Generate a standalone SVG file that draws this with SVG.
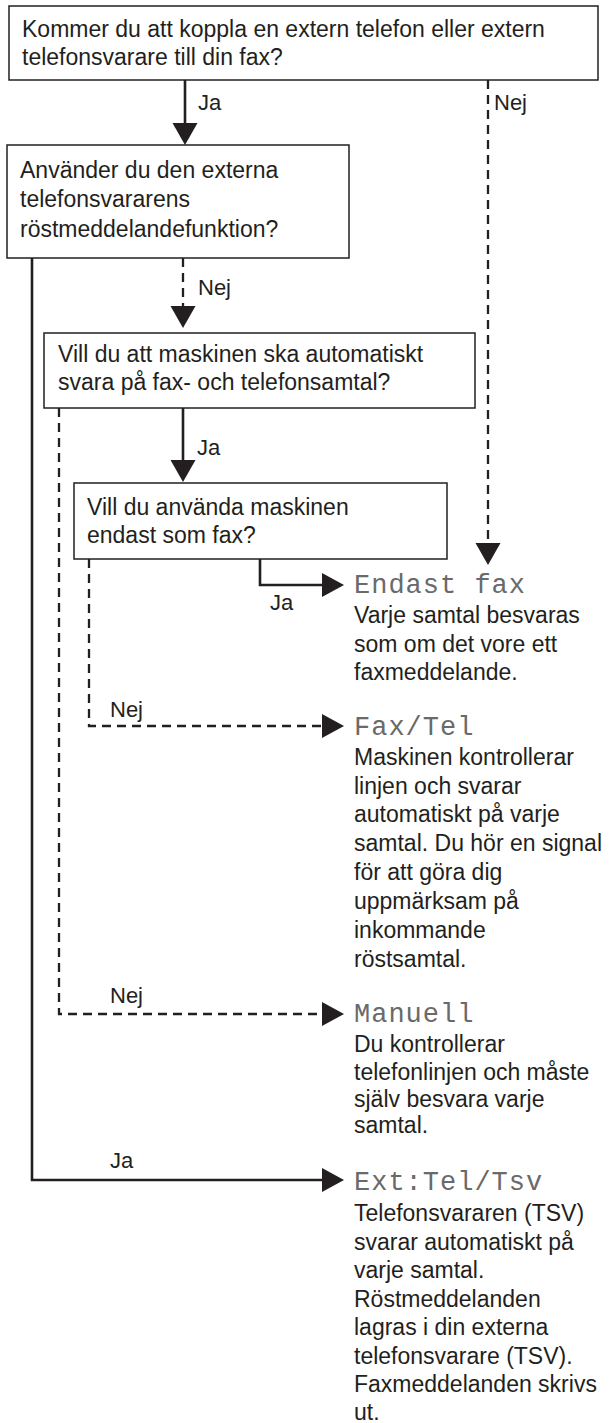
<svg xmlns="http://www.w3.org/2000/svg" width="611" height="1423" viewBox="0 0 611 1423">
<style>
.box{fill:#fff;stroke:#231f20;stroke-width:1.5}
.t{font-family:"Liberation Sans",Arial,sans-serif;font-size:23px;fill:#231f20}
.lbl{font-family:"Liberation Sans",Arial,sans-serif;font-size:22px;fill:#231f20}
.lcd{font-family:"Liberation Mono","DejaVu Sans Mono",monospace;font-size:27px;fill:#6a6a6a;letter-spacing:1px}
.solid{fill:none;stroke:#231f20;stroke-width:2.6}
.dash{fill:none;stroke:#231f20;stroke-width:2.3;stroke-dasharray:9 6}
.head{fill:#231f20}
</style>
<rect width="611" height="1423" fill="#fff"/>
<g id="q1">
<rect class="box" x="9" y="6" width="589" height="74"/>
<text class="t" x="22" y="37">Kommer du att koppla en extern telefon eller extern</text>
<text class="t" x="22" y="65">telefonsvarare till din fax?</text>
</g>
<g id="q2">
<rect class="box" x="7" y="145" width="342" height="113"/>
<text class="t" x="20" y="178">Använder du den externa</text>
<text class="t" x="20" y="207">telefonsvararens</text>
<text class="t" x="20" y="237">röstmeddelandefunktion?</text>
</g>
<g id="q3">
<rect class="box" x="44" y="333" width="431" height="75"/>
<text class="t" x="58" y="362">Vill du att maskinen ska automatiskt</text>
<text class="t" x="58" y="390">svara på fax- och telefonsamtal?</text>
</g>
<g id="q4">
<rect class="box" x="74" y="483" width="373" height="76"/>
<text class="t" x="87" y="515">Vill du använda maskinen</text>
<text class="t" x="87" y="543">endast som fax?</text>
</g>
<g id="r-endast">
<text class="lcd" x="354" y="593">Endast fax</text>
<text class="t" x="354" y="623">Varje samtal besvaras</text>
<text class="t" x="354" y="652">som om det vore ett</text>
<text class="t" x="354" y="680">faxmeddelande.</text>
</g>
<g id="r-faxtel">
<text class="lcd" x="354" y="735">Fax/Tel</text>
<text class="t" x="354" y="765">Maskinen kontrollerar</text>
<text class="t" x="354" y="794">linjen och svarar</text>
<text class="t" x="354" y="822">automatiskt på varje</text>
<text class="t" x="354" y="851">samtal. Du hör en signal</text>
<text class="t" x="354" y="880">för att göra dig</text>
<text class="t" x="354" y="909">uppmärksam på</text>
<text class="t" x="354" y="938">inkommande</text>
<text class="t" x="354" y="967">röstsamtal.</text>
</g>
<g id="r-manuell">
<text class="lcd" x="354" y="1022">Manuell</text>
<text class="t" x="354" y="1052">Du kontrollerar</text>
<text class="t" x="354" y="1080">telefonlinjen och måste</text>
<text class="t" x="354" y="1107">själv besvara varje</text>
<text class="t" x="354" y="1133">samtal.</text>
</g>
<g id="r-ext">
<text class="lcd" x="354" y="1190">Ext:Tel/Tsv</text>
<text class="t" x="354" y="1221">Telefonsvararen (TSV)</text>
<text class="t" x="354" y="1249.5">svarar automatiskt på</text>
<text class="t" x="354" y="1278">varje samtal.</text>
<text class="t" x="354" y="1306.5">Röstmeddelanden</text>
<text class="t" x="354" y="1335">lagras i din externa</text>
<text class="t" x="354" y="1363.5">telefonsvarare (TSV).</text>
<text class="t" x="354" y="1392">Faxmeddelanden skrivs</text>
<text class="t" x="354" y="1420">ut.</text>
</g>
<g id="connectors">
<path class="solid" d="M185 80V124"/>
<polygon class="head" points="172.5,123 197.5,123 185,145"/>
<text class="lbl" x="198" y="110">Ja</text>
<path class="dash" d="M488 80V544"/>
<polygon class="head" points="475.5,543 500.5,543 488,565"/>
<text class="lbl" x="494" y="110">Nej</text>
<path class="solid" d="M32 258V1180H323"/>
<polygon class="head" points="322,1168 322,1192 344,1180"/>
<text class="lbl" x="110" y="1168">Ja</text>
<path class="dash" d="M183 258V307"/>
<polygon class="head" points="170.5,306 195.5,306 183,328"/>
<text class="lbl" x="198" y="295">Nej</text>
<path class="dash" d="M59 408V1014H323"/>
<polygon class="head" points="322,1002 322,1026 344,1014"/>
<text class="lbl" x="110" y="1003">Nej</text>
<path class="solid" d="M183 408V461"/>
<polygon class="head" points="170.5,460 195.5,460 183,482"/>
<text class="lbl" x="197" y="455">Ja</text>
<path class="solid" d="M260 559V585H323"/>
<polygon class="head" points="322,573 322,597 344,585"/>
<text class="lbl" x="270" y="610">Ja</text>
<path class="dash" d="M89 559V726H323"/>
<polygon class="head" points="322,714 322,738 344,726"/>
<text class="lbl" x="110" y="717">Nej</text>
</g>
</svg>
